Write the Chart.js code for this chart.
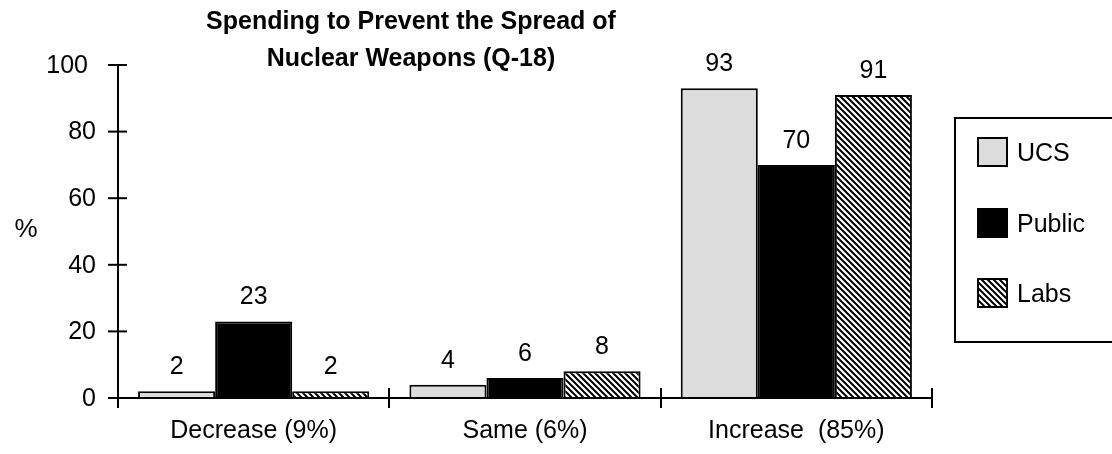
<!DOCTYPE html>
<html>
<head>
<meta charset="utf-8">
<script src="https://cdn.jsdelivr.net/npm/chart.js@4.4.1/dist/chart.umd.min.js"></script>
<style>
    html, body { margin: 0; padding: 0; background: #fff; }
    #wrap { width: 1112px; height: 454px; position: relative; }
</style>
</head>
<body>
<div id="wrap"><canvas id="barChart" width="1112" height="454"></canvas></div>
<script>
const categories = ['Decrease (9%)', 'Same (6%)', 'Increase  (85%)'];
const seriesNames = ['UCS', 'Public', 'Labs'];
const ucsValues = [2, 4, 93];
const publicValues = [23, 6, 70];
const labsValues = [2, 8, 91];
const yTickValues = [0, 20, 40, 60, 80, 100];

const FONT = '"Liberation Sans", Arial, sans-serif';

// diagonal stripes for the Labs bars
function makeStripes() {
    let c = document.createElement('canvas');
    c.width = 6;
    c.height = 6;
    let g = c.getContext('2d');
    g.fillStyle = '#fff';
    g.fillRect(0, 0, 6, 6);
    g.strokeStyle = '#000';
    g.lineWidth = 2;
    g.beginPath();
    g.moveTo(-3, -3); g.lineTo(9, 9);
    g.moveTo(-3, 3); g.lineTo(3, 9);
    g.moveTo(3, -3); g.lineTo(9, 3);
    g.stroke();
    return g.createPattern(c, 'repeat');
}

let ctx = document.getElementById('barChart').getContext('2d');
const stripes = makeStripes();
const fills = ['#dcdcdc', '#000000', stripes];

const data = {
    labels: categories,
    datasets: [
        { label: seriesNames[0], data: ucsValues, backgroundColor: fills[0], borderColor: '#000', borderWidth: 2 },
        { label: seriesNames[1], data: publicValues, backgroundColor: fills[1], borderColor: '#000', borderWidth: 2 },
        { label: seriesNames[2], data: labsValues, backgroundColor: fills[2], borderColor: '#000', borderWidth: 2 }
    ]
};

// axes, tick marks, labels, value labels and legend
const drawExtras = {
    id: 'drawExtras',
    afterDatasetsDraw: (chart) => {
        const {ctx, chartArea: {left, right, top, bottom}, scales: {x, y}} = chart;
        ctx.save();
        ctx.strokeStyle = '#000';
        ctx.fillStyle = '#000';
        ctx.lineWidth = 2;

        // y axis
        ctx.beginPath();
        ctx.moveTo(left, top);
        ctx.lineTo(left, bottom + 10);
        ctx.stroke();
        ctx.font = '25px ' + FONT;
        ctx.textAlign = 'right';
        ctx.textBaseline = 'middle';
        yTickValues.forEach(v => {
            let py = y.getPixelForValue(v);
            ctx.beginPath();
            ctx.moveTo(left - 10, py);
            ctx.lineTo(left + 9, py);
            ctx.stroke();
            ctx.fillText(String(v), v === 100 ? left - 30 : left - 22, py + 1);
        });

        // x axis
        ctx.beginPath();
        ctx.moveTo(left, bottom);
        ctx.lineTo(right, bottom);
        ctx.stroke();
        let step = (right - left) / categories.length;
        for (let i = 1; i <= categories.length; i++) {
            let px = Math.round(left + step * i);
            ctx.beginPath();
            ctx.moveTo(px, bottom - 10);
            ctx.lineTo(px, bottom + 10);
            ctx.stroke();
        }
        ctx.textAlign = 'center';
        categories.forEach((c, i) => {
            ctx.fillText(c, x.getPixelForValue(i), bottom + 33);
        });

        // value labels
        chart.data.datasets.forEach((ds, di) => {
            chart.getDatasetMeta(di).data.forEach((bar, i) => {
                ctx.fillText(String(ds.data[i]), bar.x, bar.y - 24);
            });
        });

        // % axis title
        ctx.font = '26px ' + FONT;
        ctx.fillText('%', 26, 230);

        // title
        ctx.font = 'bold 25px ' + FONT;
        ctx.fillText('Spending to Prevent the Spread of', 411, 22);
        ctx.fillText('Nuclear Weapons (Q-18)', 411, 59);

        // legend box
        ctx.lineWidth = 2;
        ctx.strokeRect(955, 118, 170, 224);
        ctx.font = '25px ' + FONT;
        ctx.textAlign = 'left';
        let ly = [138, 209, 279];
        seriesNames.forEach((name, i) => {
            ctx.fillStyle = fills[i];
            ctx.fillRect(978, ly[i], 29, 28);
            ctx.strokeStyle = '#000';
            ctx.strokeRect(978, ly[i], 29, 28);
            ctx.fillStyle = '#000';
            ctx.fillText(name, 1017, ly[i] + 16);
        });
        ctx.restore();
    }
};

let options = {
    responsive: false,
    animation: false,
    layout: {
        padding: { left: 118, right: 180, top: 65, bottom: 56 }
    },
    plugins: {
        legend: { display: false },
        tooltip: { enabled: false }
    },
    datasets: {
        bar: {
            categoryPercentage: 0.852,
            barPercentage: 1.0
        }
    },
    scales: {
        x: { display: false },
        y: { display: false, min: 0, max: 100 }
    }
};

let barChart = new Chart(ctx, {
    type: 'bar',
    data: data,
    options: options,
    plugins: [drawExtras]
});
</script>
</body>
</html>
